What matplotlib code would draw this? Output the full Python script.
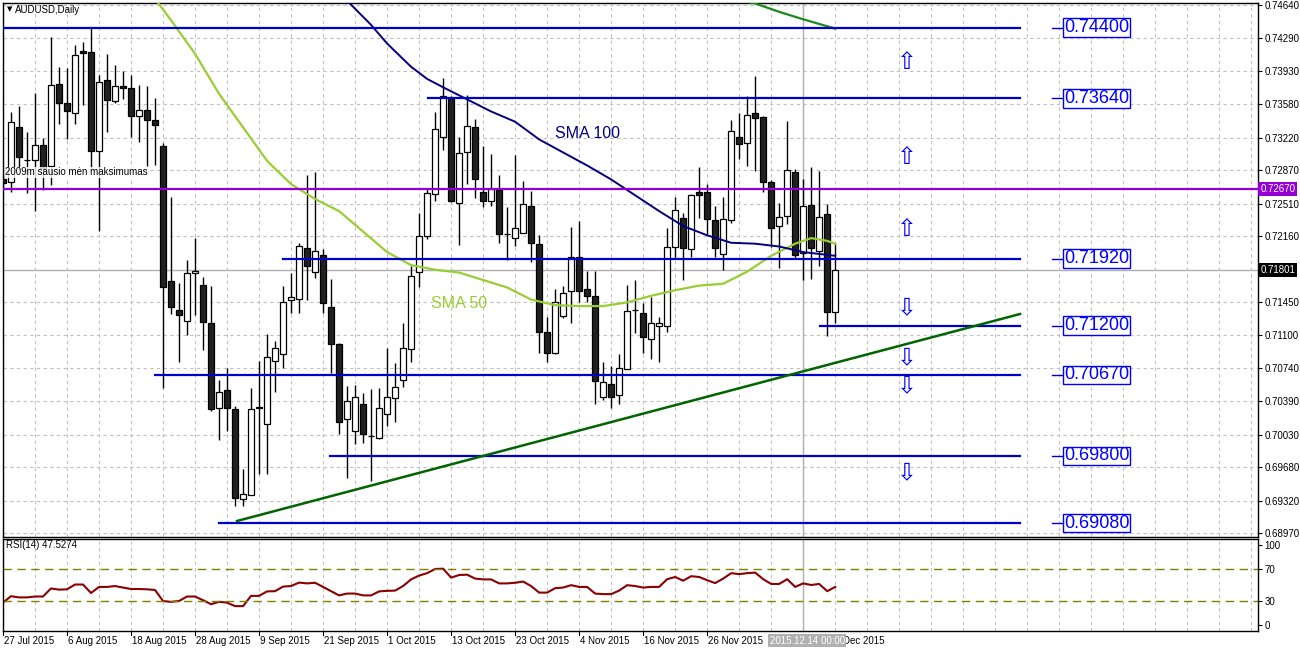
import numpy as np
import matplotlib
matplotlib.use("Agg")
import matplotlib.pyplot as plt

# ---------------- data ----------------
opens = [0.7277,0.7274,0.7333,0.7298,0.7298,0.7314,0.7291,0.7380,0.7359,0.7348,
         0.7415,0.7414,0.7308,0.7384,0.7361,0.7377,0.7375,0.7345,0.7352,0.7341,
         0.7313,0.7168,0.7137,0.7125,0.7177,0.7164,0.7123,0.7032,0.7051,0.7030,
         0.6934,0.6938,0.7032,0.7014,0.7082,0.7090,0.7147,0.7149,0.7203,0.7178,
         0.7196,0.7140,0.7100,0.7020,0.7007,0.7036,0.7001,0.6999,0.7025,0.7042,
         0.7062,0.7095,0.7178,0.7216,0.7261,0.7323,0.7364,0.7252,0.7306,0.7333,
         0.7263,0.7254,0.7266,0.7218,0.7214,0.7220,0.7249,0.7208,0.7113,0.7091,
         0.7130,0.7157,0.7194,0.7159,0.7152,0.7043,0.7057,0.7045,0.7073,0.7137,
         0.7134,0.7106,0.7120,0.7120,0.7204,0.7236,0.7202,0.7263,0.7264,0.7233,
         0.7197,0.7233,0.7323,0.7316,0.7348,0.7344,0.7274,0.7227,0.7238,0.7285,
         0.7198,0.7250,0.7200,0.7240,0.7135]
highs = [0.7282,0.7349,0.7356,0.7328,0.7370,0.7321,0.7430,0.7398,0.7397,0.7421,
         0.7425,0.7441,0.7389,0.7412,0.7400,0.7393,0.7389,0.7378,0.7377,0.7364,
         0.7316,0.7258,0.7166,0.7191,0.7214,0.7172,0.7163,0.7062,0.7075,0.7034,
         0.6966,0.7053,0.7082,0.7111,0.7103,0.7163,0.7177,0.7209,0.7282,0.7285,
         0.7202,0.7170,0.7101,0.7055,0.7056,0.7048,0.7052,0.7053,0.7096,0.7080,
         0.7123,0.7184,0.7241,0.7267,0.7349,0.7386,0.7367,0.7323,0.7368,0.7342,
         0.7313,0.7304,0.7282,0.7247,0.7303,0.7275,0.7265,0.7217,0.7129,0.7159,
         0.7163,0.7226,0.7232,0.7179,0.7179,0.7081,0.7077,0.7090,0.7164,0.7169,
         0.7144,0.7151,0.7129,0.7225,0.7258,0.7241,0.7261,0.7290,0.7272,0.7248,
         0.7258,0.7341,0.7348,0.7367,0.7388,0.7345,0.7276,0.7252,0.7340,0.7288,
         0.7277,0.7290,0.7286,0.7251,0.7209]
lows = [0.7266,0.7263,0.7288,0.7262,0.7243,0.7266,0.7271,0.7337,0.7320,0.7337,
        0.7357,0.7289,0.7222,0.7328,0.7359,0.7363,0.7323,0.7317,0.7291,0.7292,
        0.7053,0.7132,0.7081,0.7110,0.7131,0.7094,0.7028,0.6997,0.7007,0.6926,
        0.6926,0.6938,0.6961,0.6961,0.7049,0.7075,0.7134,0.7134,0.7148,0.7171,
        0.7134,0.7069,0.7004,0.6956,0.6993,0.6994,0.6953,0.6998,0.7012,0.7017,
        0.7054,0.7081,0.7161,0.7213,0.7254,0.7309,0.7253,0.7207,0.7272,0.7257,
        0.7247,0.7249,0.7209,0.7191,0.7205,0.7220,0.7188,0.7091,0.7081,0.7089,
        0.7128,0.7123,0.7145,0.7145,0.7036,0.7040,0.7032,0.7036,0.7073,0.7112,
        0.7091,0.7084,0.7081,0.7113,0.7193,0.7169,0.7194,0.7236,0.7218,0.7194,
        0.7180,0.7230,0.7299,0.7291,0.7286,0.7263,0.7204,0.7182,0.7229,0.7193,
        0.7169,0.7170,0.7184,0.7109,0.7123]
closes = [0.7273,0.7339,0.7301,0.7298,0.7314,0.7289,0.7378,0.7359,0.7350,0.7411,
          0.7413,0.7308,0.7382,0.7362,0.7377,0.7375,0.7345,0.7352,0.7341,0.7335,
          0.7162,0.7140,0.7131,0.7177,0.7179,0.7124,0.7030,0.7049,0.7032,0.6935,
          0.6939,0.7030,0.7032,0.7086,0.7096,0.7145,0.7151,0.7206,0.7184,0.7200,
          0.7144,0.7100,0.7016,0.7039,0.7043,0.7004,0.7001,0.7032,0.7043,0.7054,
          0.7096,0.7173,0.7216,0.7262,0.7331,0.7367,0.7254,0.7305,0.7334,0.7278,
          0.7254,0.7267,0.7218,0.7218,0.7225,0.7251,0.7209,0.7113,0.7091,0.7145,
          0.7155,0.7194,0.7157,0.7152,0.7061,0.7059,0.7043,0.7074,0.7136,0.7137,
          0.7108,0.7123,0.7123,0.7204,0.7244,0.7203,0.7260,0.7260,0.7234,0.7203,
          0.7234,0.7329,0.7315,0.7346,0.7343,0.7274,0.7225,0.7237,0.7287,0.7196,
          0.7248,0.7203,0.7237,0.7135,0.7180]

sma50_idx = [19,21,24,27,30,33,36,39,42,45,48,51,54,57,60,63,66,69,72,75,78,81,84,87,90,93,96,99,101,103,104]
sma50_val = [0.7471,0.7448,0.7412,0.7369,0.7333,0.7297,0.7272,0.7256,0.7243,0.7221,0.7199,0.7185,0.7180,0.7177,
             0.7169,0.7161,0.7148,0.7142,0.7141,0.7141,0.7145,0.7152,0.7158,0.7163,0.7165,0.7178,0.7195,0.7208,
             0.7214,0.7211,0.7208]
sma100_idx = [43,46,48,51,53,55,58,61,64,67,70,73,76,79,82,85,88,91,94,97,100,102,104]
sma100_val = [0.7469,0.7443,0.7423,0.7398,0.7385,0.7376,0.7363,0.7350,0.7339,0.7320,0.7306,0.7292,0.7277,
              0.7260,0.7243,0.7227,0.7217,0.7209,0.7208,0.7205,0.7199,0.7197,0.7195]
sma200_idx = [91,94,97,100,104]
sma200_val = [0.7471,0.7466,0.7457,0.7449,0.7439]

rsi = [28,36,34.5,34.5,35.6,35.6,45.7,44.2,44.6,50.6,50.6,40,47.6,47.6,48.7,46.8,45,45,44.6,43.8,
       30,28.9,30,35.6,35.6,31,26,29,28,23.6,23.6,36.4,36.4,42,42.3,48,48.7,53,52,52.8,
       47.6,42.3,37,39.3,39.3,37,37,42,42.7,43,48.7,57,61.8,64.8,70,70.4,59.2,62.5,62.9,58,
       57,57,52,52,52.8,54.3,48.7,40.5,40.5,46,46.8,49.8,47.6,47.6,39.3,38.6,38.6,43,49.8,48.7,
       46.8,47.6,47.6,57.3,60,55.4,61,60,56,52.4,58,64.8,63.6,64.8,65.5,57.3,51.3,51.3,57.3,47.6,
       52,50,51.3,42.3,47.5274]

levels = [0.7440, 0.7364, 0.7192, 0.7120, 0.7067, 0.6980, 0.6908]
level_start = [-0.1, 53.1, 35.0, 102.1, 19.0, 40.9, 27.0]
level_labels = ["0.74400", "0.73640", "0.71920", "0.71200", "0.70670", "0.69800", "0.69080"]
resist_267 = 0.7267
current_price = 0.71801
trend_x = [29.25, 127.1]
trend_y = [0.69102, 0.71325]

price_ticks = [0.74640,0.74290,0.73930,0.73580,0.73220,0.72870,0.72510,0.72160,
               0.71450,0.71100,0.70740,0.70390,0.70030,0.69680,0.69320,0.68970]
date_labels = ["27 Jul 2015","6 Aug 2015","18 Aug 2015","28 Aug 2015","9 Sep 2015","21 Sep 2015",
               "1 Oct 2015","13 Oct 2015","23 Oct 2015","4 Nov 2015","16 Nov 2015","26 Nov 2015"]
date_bars = [0,8,16,24,32,40,48,56,64,72,80,88]

up_arrows_y = [0.74031, 0.73011, 0.72238]
down_arrows_y = [0.71400, 0.70863, 0.70562, 0.69628]

# ---------------- figure ----------------
W, H = 1300, 652
fig = plt.figure(figsize=(W/100, H/100), dpi=100)
fig.patch.set_facecolor("white")
L, R = 2.5/W, 1257.7/W
ax = fig.add_axes([L, 1-537/H, R-L, (537-3)/H])
axr = fig.add_axes([L, 1-631/H, R-L, (631-539)/H], sharex=ax)

xmin, xmax = -0.06, 156.8
ax.set_xlim(xmin, xmax)
ax.set_ylim(0.68930, 0.74665)
axr.set_ylim(-7.5, 107.5)

FS = "Liberation Sans"
grid_kw = dict(color="#c0c0c0", linestyle=(0, (3, 3)), linewidth=0.8)
for a in (ax, axr):
    for b in np.arange(0, 160, 4):
        a.axvline(b, zorder=0, **grid_kw)
for p in price_ticks:
    ax.axhline(p, zorder=0, **grid_kw)

n = len(opens)
idx = np.arange(n)
o = np.array(opens); c = np.array(closes); h = np.array(highs); l = np.array(lows)
ax.vlines(idx, l, h, color="black", linewidth=1.0, zorder=3)
bottom = np.minimum(o, c)
height = np.maximum(np.abs(c - o), 0.00003)
cols = np.where(c >= o, "white", "#202020")
ax.bar(idx, height, bottom=bottom, width=0.72, color=cols, edgecolor="black", linewidth=0.9, zorder=4)

# moving averages
ax.plot(sma50_idx, sma50_val, color="#9acd32", linewidth=1.6, zorder=5)
ax.plot(sma100_idx, sma100_val, color="#000080", linewidth=1.4, zorder=5)
ax.plot(sma200_idx, sma200_val, color="#1a8a1a", linewidth=1.6, zorder=5)

# levels
for lv, st, lab in zip(levels, level_start, level_labels):
    ax.plot([st, 127.1], [lv, lv], color="#0000cd", linewidth=1.6, zorder=6)
    ax.plot([131.1, 132.5], [lv, lv], color="#0000cd", linewidth=1.0, zorder=6)
    ax.text(132.6, lv, lab, color="#0000ff", fontsize=13, family=FS,
            va="center", ha="left", zorder=7,
            bbox=dict(boxstyle="square,pad=0.05", fc="white", ec="#0000ff", lw=1.0))
ax.axhline(resist_267, color="#9400d3", linewidth=1.6, zorder=6)
ax.axhline(current_price, color="#b0b0b0", linewidth=1.0, zorder=1)
ax.plot(trend_x, trend_y, color="#006400", linewidth=1.8, zorder=6)
for a in (ax, axr):
    a.axvline(100, color="#b0b0b0", linewidth=1.0, zorder=1)

for y in up_arrows_y:
    ax.text(112.9, y, "\u21e7", color="#0000ff", fontsize=17, ha="center", va="center", zorder=7)
for y in down_arrows_y:
    ax.text(112.9, y, "\u21e9", color="#0000ff", fontsize=17, ha="center", va="center", zorder=7)

ax.text(69, 0.7326, "SMA 100", color="#000080", fontsize=11.5, family=FS, va="center")
ax.text(53.5, 0.71440, "SMA 50", color="#9acd32", fontsize=11.5, family=FS, va="center")
ax.text(0.3, 0.72845, "2009m sausio m\u0117n maksimumas", color="black", fontsize=7,
        family=FS, va="center", zorder=8,
        bbox=dict(boxstyle="square,pad=0.05", fc="white", ec="none", alpha=0.8))
ax.text(1.5, 0.7459, "AUDUSD,Daily", fontsize=7, family=FS, va="center")
ax.text(0.5, 0.7460, "\u25bc", fontsize=5, va="center")

# right axis ticks
for a in (ax, axr):
    a.yaxis.tick_right()
    a.tick_params(axis="y", direction="out", length=3, labelsize=7, pad=2)
    a.tick_params(axis="x", bottom=False, labelbottom=False)
    for s in a.spines.values():
        s.set_linewidth(1.0)
    for t in a.get_yticklabels():
        t.set_family(FS)
ax.set_yticks(price_ticks)
ax.set_yticklabels([f"{p:.5f}" for p in price_ticks], family=FS, fontsize=7)
for val, fc in ((resist_267, "#9400d3"), (current_price, "black")):
    ax.text(1.002, val, f"{val:.5f}", transform=ax.get_yaxis_transform(), fontsize=7, family=FS,
            color="white", va="center", ha="left", zorder=10, clip_on=False,
            bbox=dict(boxstyle="square,pad=0.2", fc=fc, ec="none"))

# RSI
axr.plot(idx, rsi, color="#8b0000", linewidth=1.5)
for lv in (30, 70):
    axr.axhline(lv, color="#808000", linestyle=(0, (6, 4)), linewidth=1.0)
axr.set_yticks([0, 30, 70, 100])
axr.set_yticklabels(["0", "30", "70", "100"], family=FS, fontsize=7)
axr.text(0.4, 100, "RSI(14) 47.5274", fontsize=7, family=FS, va="center")

# date labels
for b, lab in zip(date_bars, date_labels):
    axr.text(b + 0.15, -0.05, lab, transform=axr.get_xaxis_transform(), fontsize=7, family=FS,
             va="top", ha="left", clip_on=False)
    axr.plot([b, b], [0, -0.04], transform=axr.get_xaxis_transform(), color="black", lw=0.8, clip_on=False)
axr.text(95.8, -0.05, "2015.12.14 00:00", transform=axr.get_xaxis_transform(), fontsize=7, family=FS,
         color="white", va="top", ha="left", clip_on=False, zorder=10,
         bbox=dict(boxstyle="square,pad=0.15", fc="#b0b0b0", ec="none"))
axr.text(105.0, -0.05, "Dec 2015", transform=axr.get_xaxis_transform(), fontsize=7, family=FS,
         va="top", ha="left", clip_on=False)

fig.savefig("out.png", dpi=100, facecolor="white")
